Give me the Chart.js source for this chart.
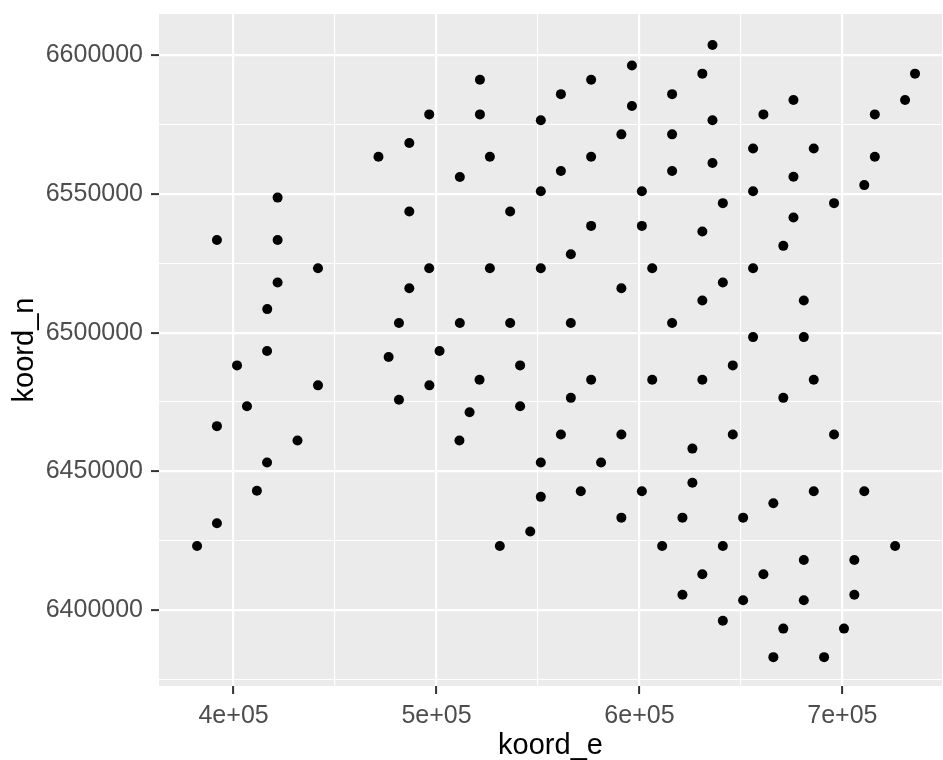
<!DOCTYPE html>
<html>
<head>
<meta charset="utf-8">
<title>koord scatter</title>
<script src="https://cdn.jsdelivr.net/npm/chart.js@4"></script>
<style>
  html, body { margin: 0; padding: 0; background: #fff; }
  #wrap { width: 943px; height: 760px; }
</style>
</head>
<body>
<div id="wrap"><canvas id="plot" width="943" height="760"></canvas></div>
<script>
// point coordinates
const koordE = [
  521400, 496400, 521400, 551400, 486600, 471400, 526300, 511500, 421700, 551400,
  486600, 536300, 391800, 421700, 441600, 496400, 526300, 551400, 421700, 486600,
  416600, 481500, 511500, 536300,
  636000, 596300, 576200, 561300, 631000, 616100, 596300, 636000, 675900, 661100,
  735800, 730900, 716000, 591100, 616100, 656000, 685900, 576200, 561300, 616100,
  636000, 675900, 716000, 710800, 601200, 656000, 641100, 695900, 576200, 601200,
  631000, 675900, 670900, 566200, 606300, 656000, 641100, 591100, 631000, 681000,
  566200, 616100, 656000, 681000,
  416500, 401700, 441600, 406600, 391800, 431500, 416500, 411500, 391800, 382000,
  476400, 501500, 496500, 481500, 521200, 541200, 516300, 541200, 511300, 551400,
  551400, 546200, 531200,
  646000, 576200, 606300, 631000, 685900, 566200, 670900, 561300, 591100, 646000,
  695900, 626100, 581100, 626100, 571100, 601200, 685900, 710800, 666000, 591100,
  621200, 651100, 611200, 641100, 726000, 681000, 705900, 631000, 661100, 621200,
  651100, 681000, 705900, 641100, 670900, 700800, 666000, 691000
];
const koordN = [
  6591200, 6578700, 6578700, 6576600, 6568400, 6563400, 6563400, 6556100, 6548700, 6551000,
  6543700, 6543700, 6533400, 6533400, 6523200, 6523200, 6523200, 6523200, 6518100, 6516000,
  6508500, 6503500, 6503500, 6503500,
  6603700, 6596300, 6591200, 6586000, 6593400, 6586000, 6581700, 6576600, 6583900, 6578700,
  6593400, 6583900, 6578700, 6571500, 6571500, 6566400, 6566400, 6563400, 6558300, 6558300,
  6561200, 6556200, 6563400, 6553200, 6551000, 6551000, 6546700, 6546700, 6538500, 6538500,
  6536500, 6541500, 6531300, 6528300, 6523200, 6523200, 6518100, 6516000, 6511600, 6511600,
  6503500, 6503500, 6498400, 6498400,
  6493400, 6488200, 6481000, 6473500, 6466300, 6461100, 6453200, 6443000, 6431300, 6423100,
  6491200, 6493400, 6481000, 6475800, 6483000, 6488200, 6471300, 6473500, 6461100, 6453200,
  6440800, 6428300, 6423100,
  6488200, 6483000, 6483000, 6483000, 6483000, 6476500, 6476500, 6463300, 6463300, 6463300,
  6463300, 6458200, 6453200, 6445900, 6442800, 6442800, 6442800, 6442800, 6438500, 6433300,
  6433300, 6433300, 6423100, 6423100, 6423100, 6418000, 6418000, 6412900, 6412900, 6405500,
  6403500, 6403500, 6405500, 6396100, 6393300, 6393300, 6383000, 6383000
];

// axis ticks
const xMajor = [400000, 500000, 600000, 700000];
const xLabels = ["4e+05", "5e+05", "6e+05", "7e+05"];
const xMinor = [450000, 550000, 650000];
const yMajor = [6400000, 6450000, 6500000, 6550000, 6600000];
const yLabels = ["6400000", "6450000", "6500000", "6550000", "6600000"];
const yMinor = [6375000, 6425000, 6475000, 6525000, 6575000];

const points = koordE.map((e, i) => ({ x: e, y: koordN[i] }));

const panelBg = {
  id: "panelBg",
  beforeDraw(chart) {
    const { ctx, chartArea: a } = chart;
    ctx.save();
    ctx.fillStyle = "#EBEBEB";
    ctx.fillRect(a.left, a.top, a.right - a.left, a.bottom - a.top);
    ctx.restore();
  }
};

const setTicks = (major, minor) => (scale) => {
  scale.ticks = major.concat(minor).sort((a, b) => a - b).map(v => ({ value: v }));
};

const gridFor = (major) => ({
  color: "#FFFFFF",
  lineWidth: ctx => (ctx.tick && major.includes(ctx.tick.value)) ? 2.2 : 1.1,
  drawTicks: true,
  tickLength: 8,
  tickWidth: 2,
  tickColor: ctx => (ctx.tick && major.includes(ctx.tick.value)) ? "#333333" : "rgba(0,0,0,0)"
});

const tickFont = { family: "'Liberation Sans', Arial, sans-serif", size: 25 };
const titleFont = { family: "'Liberation Sans', Arial, sans-serif", size: 29, lineHeight: 1 };

new Chart(document.getElementById("plot"), {
  type: "scatter",
  data: {
    datasets: [{
      data: points,
      backgroundColor: "#000000",
      borderWidth: 0,
      pointRadius: 5,
      pointHoverRadius: 5
    }]
  },
  options: {
    responsive: false,
    animation: false,
    devicePixelRatio: 1,
    layout: { autoPadding: false, padding: { top: 14, right: 1, left: 0, bottom: 0 } },
    plugins: {
      legend: { display: false },
      tooltip: { enabled: false }
    },
    scales: {
      x: {
        type: "linear",
        min: 363250,
        max: 749100,
        afterBuildTicks: setTicks(xMajor, xMinor),
        afterFit: s => { s.height = 74; s.paddingLeft = 0; s.paddingRight = 0; },
        border: { display: false },
        grid: gridFor(xMajor),
        ticks: {
          autoSkip: false,
          maxRotation: 0,
          padding: 7,
          color: "#4D4D4D",
          font: tickFont,
          callback: v => { const i = xMajor.indexOf(v); return i >= 0 ? xLabels[i] : ""; }
        },
        title: {
          display: true,
          text: "koord_e",
          color: "#000000",
          padding: { top: 0, bottom: 0 },
          font: titleFont
        }
      },
      y: {
        type: "linear",
        min: 6372600,
        max: 6614900,
        afterBuildTicks: setTicks(yMajor, yMinor),
        afterFit: s => { s.width = 159; s.paddingTop = 0; s.paddingBottom = 0; },
        border: { display: false },
        grid: gridFor(yMajor),
        ticks: {
          autoSkip: false,
          padding: 8,
          color: "#4D4D4D",
          font: tickFont,
          callback: v => { const i = yMajor.indexOf(v); return i >= 0 ? yLabels[i] : ""; }
        },
        title: {
          display: true,
          text: "koord_n",
          color: "#000000",
          padding: { top: 10, bottom: 0 },
          font: titleFont
        }
      }
    }
  },
  plugins: [panelBg]
});
</script>
</body>
</html>
